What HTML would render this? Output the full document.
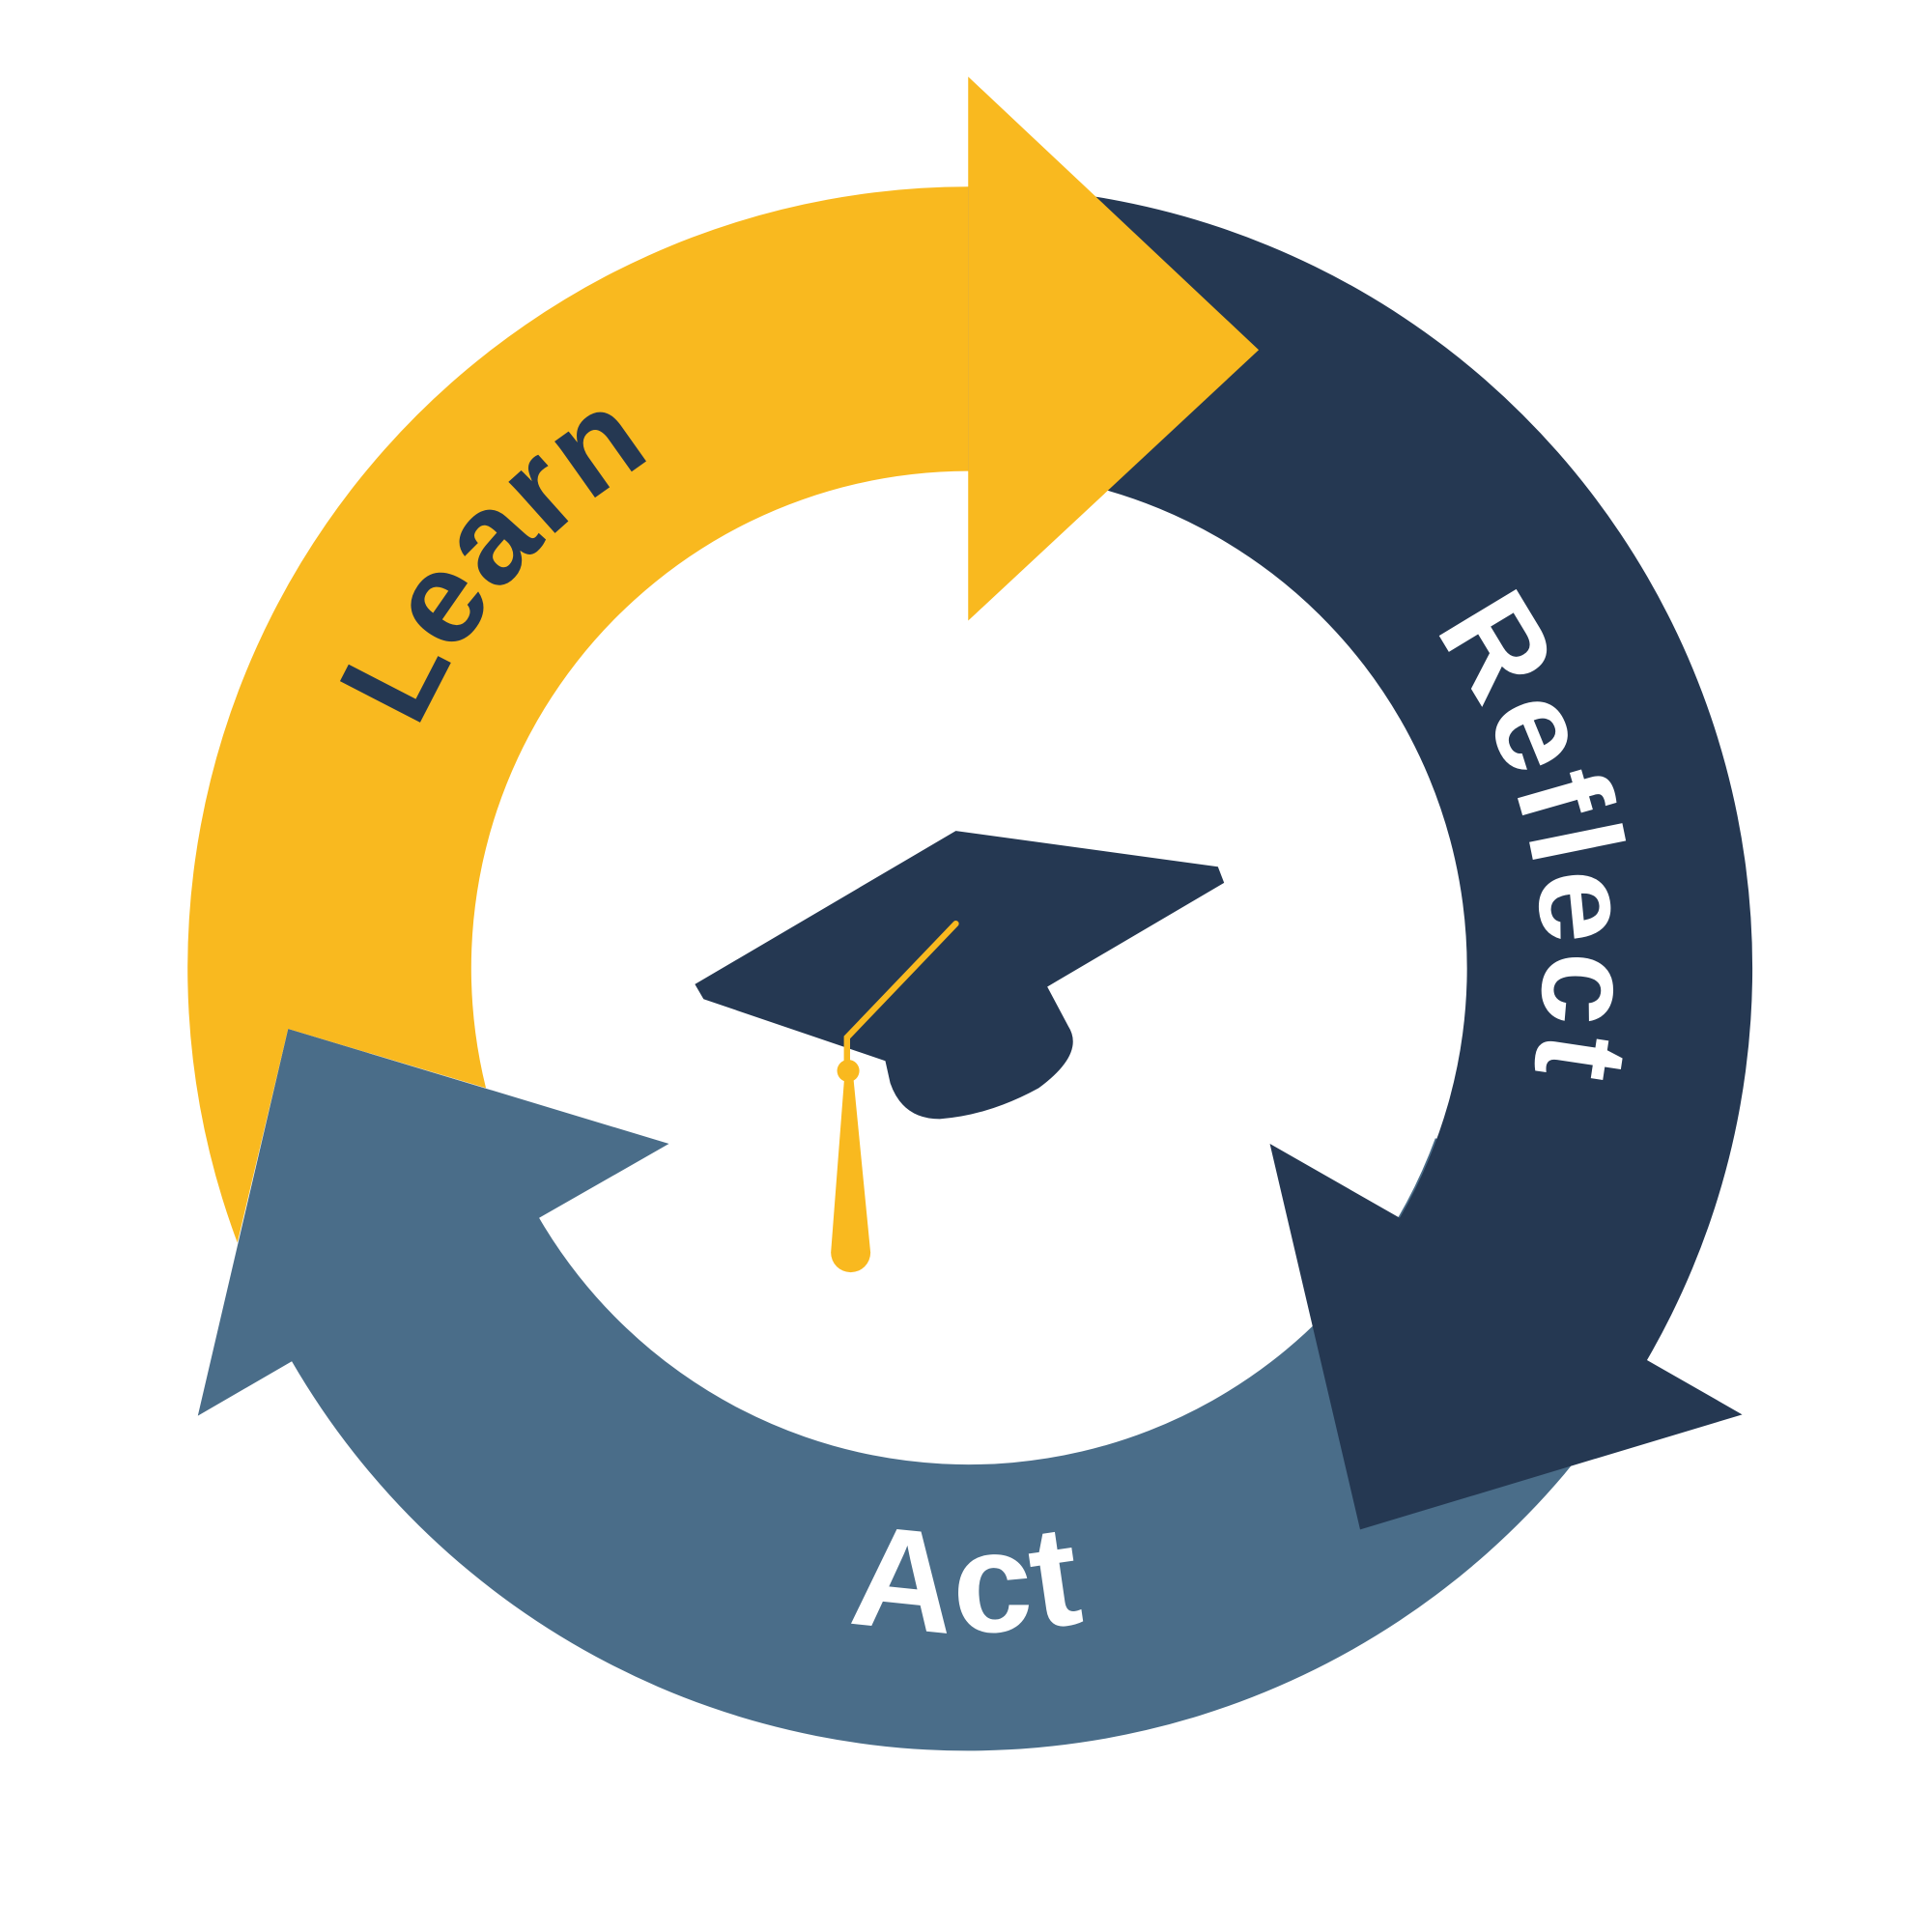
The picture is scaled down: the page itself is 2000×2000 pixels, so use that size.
<!DOCTYPE html>
<html><head><meta charset="utf-8"><style>
html,body{margin:0;padding:0;background:#fff;}
svg{display:block;}
text{font-family:"Liberation Sans",sans-serif;font-weight:bold;}
</style></head><body>
<svg width="2000" height="2000" viewBox="0 0 1562.5 1562.5" xmlns="http://www.w3.org/2000/svg">
<defs>
<path id="pL" d="M298,783 A485,485 0 0 1 783,298"/>
<path id="pR" d="M783,318 A465,465 0 0 1 783,1248"/>
<path id="pA" d="M246,783 A537,537 0 0 0 1320,783"/>
</defs>
<path fill="#4a6d89" d="M160,1145 L233,832 L541,925 L436,985 A402,402 0 0 0 1160.8,920.5 L1376.9,999.2 A632,632 0 0 1 236,1101 Z"/>
<path fill="#253852" d="M783,151 A632,632 0 0 1 1332,1100 L1409,1144 L1100,1237 L1027,925 L1132,985 A402,402 0 0 0 783,381 Z"/>
<path fill="#f9b91f" d="M783,151 A632,632 0 0 0 192,1005 L233,832 L393,880 A402,402 0 0 1 783,381 Z"/>
<path fill="#f9b91f" d="M783,62 L1018,283 L783,502 Z"/>
<path fill="#253852" d="M562,796 L773,672 L985,701 L990,714 L847,798 L864,830 Q878,852 840,880 Q800,902 760,905 Q730,905 720,876 L716,858 L569,808 Z"/>
<path d="M773,747 L685,839 L685,858" stroke="#f9b91f" stroke-width="5" fill="none" stroke-linecap="round"/>
<circle cx="686" cy="866" r="9" fill="#f9b91f"/>
<path fill="#f9b91f" d="M683,870 L672,1013 A16,16 0 0 0 704,1013 L690,870 Z"/>
<text font-size="106" fill="#253852" text-anchor="middle" letter-spacing="2"><textPath href="#pL" startOffset="45.5%">Learn</textPath></text>
<text font-size="106" fill="#ffffff" text-anchor="middle" letter-spacing="4"><textPath href="#pR" startOffset="43%">Reflect</textPath></text>
<text font-size="116" fill="#ffffff" text-anchor="middle" letter-spacing="3"><textPath href="#pA" startOffset="50%">Act</textPath></text>
</svg>
</body></html>
